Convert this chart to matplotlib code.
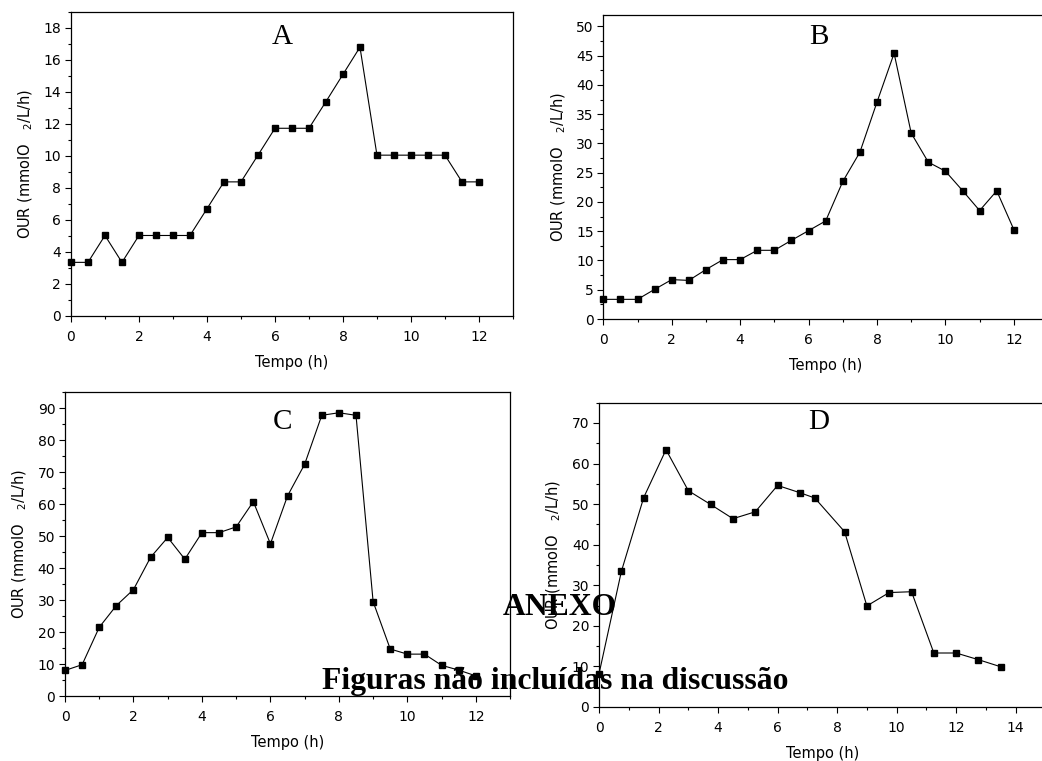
import matplotlib
matplotlib.use('Agg')
import matplotlib.pyplot as plt
from matplotlib.ticker import MultipleLocator

# Panel A
t_a = [0, 0.5, 1, 1.5, 2, 2.5, 3, 3.5, 4, 4.5, 5, 5.5, 6, 6.5, 7, 7.5, 8, 8.5,
       9, 9.5, 10, 10.5, 11, 11.5, 12]
our_a = [3.35, 3.35, 5.03, 3.35, 5.03, 5.03, 5.03, 5.03, 6.7, 8.38, 8.38, 10.05,
         11.73, 11.73, 11.73, 13.4, 15.1, 16.8, 10.05, 10.05, 10.05, 10.05, 10.05,
         8.38, 8.38]

# Panel B
t_b = t_a
our_b = [3.36, 3.36, 3.36, 5.07, 6.73, 6.6, 8.45, 10.15, 10.15, 11.74, 11.74,
         13.45, 15.1, 16.76, 23.5, 28.5, 37.06, 45.4, 31.76, 26.8, 25.26, 21.95,
         18.53, 21.9, 15.28]

# Panel C
t_c = t_a
our_c = [8.0, 9.8, 21.5, 28.3, 33.3, 43.4, 49.6, 42.8, 51.1, 51.1, 52.9, 60.8,
         47.6, 62.6, 72.5, 87.8, 88.6, 87.8, 29.5, 14.7, 13.1, 13.1, 9.6, 8.1, 6.3]

# Panel D
t_d = [0, 0.75, 1.5, 2.25, 3, 3.75, 4.5, 5.25, 6, 6.75, 7.25, 8.25, 9, 9.75,
       10.5, 11.25, 12, 12.75, 13.5]
our_d = [8.2, 33.4, 51.6, 63.4, 53.3, 49.9, 46.4, 48.1, 54.6, 52.8, 51.5, 43.2,
         24.9, 28.2, 28.4, 13.3, 13.3, 11.65, 9.9]

# name, x, y, axes rect, xmax, ymax, y major, y minor, letter pos
panels = [
    ('A', t_a, our_a, [0.0681, 0.5848, 0.4242, 0.3995], 13, 19, 2, 1, (0.477, 0.918)),
    ('B', t_b, our_b, [0.5790, 0.5808, 0.4268, 0.3999], 13, 52, 5, 2.5, (0.485, 0.928)),
    ('C', t_c, our_c, [0.0624, 0.0854, 0.4271, 0.3991], 13, 95, 10, 5, (0.488, 0.903)),
    ('D', t_d, our_d, [0.5749, 0.0710, 0.4284, 0.3999], 15, 75, 10, 5, (0.493, 0.9375)),
]

fig = plt.figure(figsize=(10.42, 7.61), dpi=100)

for name, t, y, pos, xmax, ymax, ymaj, ymin, lpos in panels:
    ax = fig.add_axes(pos)
    ax.plot(t, y, color='black', linewidth=0.8, marker='s', markersize=5,
            markerfacecolor='black', markeredgecolor='black', clip_on=False)
    ax.set_xlim(0, xmax)
    ax.set_ylim(0, ymax)
    ax.xaxis.set_major_locator(MultipleLocator(2))
    ax.xaxis.set_minor_locator(MultipleLocator(1))
    ax.yaxis.set_major_locator(MultipleLocator(ymaj))
    ax.yaxis.set_minor_locator(MultipleLocator(ymin))
    ax.tick_params(which='major', direction='out', length=4, width=0.8,
                   labelsize=10)
    ax.tick_params(axis='x', which='major', pad=6)
    ax.tick_params(axis='y', which='major', pad=3)
    ax.tick_params(which='minor', direction='out', length=2.5, width=0.8)
    for s in ax.spines.values():
        s.set_linewidth(0.9)
    ax.set_xlabel('Tempo (h)', fontsize=10.5, labelpad=8)
    ax.set_ylabel('OUR (mmolO   $_2$/L/h)', fontsize=10.5, labelpad=6)
    ax.text(lpos[0], lpos[1], name, transform=ax.transAxes, ha='center',
            va='center', fontsize=21, family='Liberation Serif')

fig.text(560 / 1042, 1 - 615 / 761, 'ANEXO', ha='center', va='baseline',
         fontsize=22.8, fontweight='bold', family='Liberation Serif')
fig.text(555.5 / 1042, 1 - 689 / 761, 'Figuras não incluídas na discussão',
         ha='center', va='baseline', fontsize=22.8, fontweight='bold',
         family='Liberation Serif')

fig.savefig('out.png', dpi=100)
